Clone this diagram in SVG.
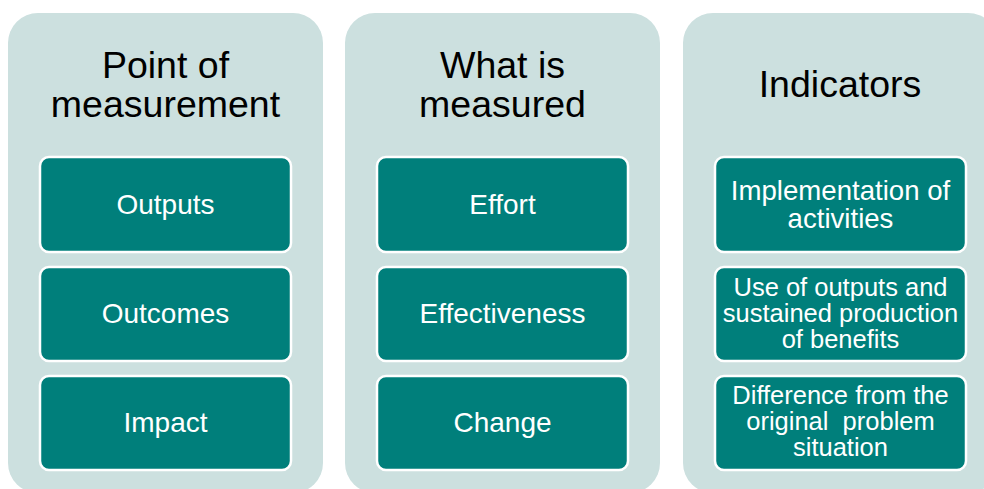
<svg xmlns="http://www.w3.org/2000/svg" width="984" height="489" viewBox="0 0 984 489">
<style>
.panel{fill:#CCE0DF;}
.box{fill:#007F7B;stroke:#FFFFFF;stroke-width:2.5;}
.title{font-family:"Liberation Sans",Arial,sans-serif;font-size:37.5px;fill:#000000;text-anchor:middle;}
.lbl{font-family:"Liberation Sans",Arial,sans-serif;font-size:28px;fill:#FFFFFF;text-anchor:middle;}
.md{font-size:27.6px;}
.sm{font-size:25.5px;}
</style>
<rect width="984" height="489" fill="#FFFFFF"/>
<g id="panel-point">
<rect class="panel" x="8" y="13" width="315" height="480" rx="30" ry="30"/>
<text class="title" x="165.5" y="78">Point of</text>
<text class="title" x="165.5" y="117">measurement</text>
</g>
<g id="panel-what">
<rect class="panel" x="345" y="13" width="315" height="480" rx="30" ry="30"/>
<text class="title" x="502.5" y="78">What is</text>
<text class="title" x="502.5" y="117">measured</text>
</g>
<g id="panel-indicators">
<rect class="panel" x="683" y="13" width="315" height="480" rx="30" ry="30"/>
<text class="title" x="840" y="97">Indicators</text>
</g>
<g id="outputs">
<rect class="box" x="40" y="157" width="251" height="95" rx="9" ry="9"/>
<text class="lbl" x="165.5" y="214">Outputs</text>
</g>
<g id="outcomes">
<rect class="box" x="40" y="267" width="251" height="94" rx="9" ry="9"/>
<text class="lbl" x="165.5" y="323">Outcomes</text>
</g>
<g id="impact">
<rect class="box" x="40" y="376" width="251" height="94" rx="9" ry="9"/>
<text class="lbl" x="165.5" y="432">Impact</text>
</g>
<g id="effort">
<rect class="box" x="377" y="157" width="251" height="95" rx="9" ry="9"/>
<text class="lbl" x="502.5" y="214">Effort</text>
</g>
<g id="effectiveness">
<rect class="box" x="377" y="267" width="251" height="94" rx="9" ry="9"/>
<text class="lbl" x="502.5" y="323">Effectiveness</text>
</g>
<g id="change">
<rect class="box" x="377" y="376" width="251" height="94" rx="9" ry="9"/>
<text class="lbl" x="502.5" y="432">Change</text>
</g>
<g id="implementation">
<rect class="box" x="715" y="157" width="251" height="95" rx="9" ry="9"/>
<text class="lbl md" x="840.5" y="200">Implementation of</text>
<text class="lbl md" x="840.5" y="228">activities</text>
</g>
<g id="use-of-outputs">
<rect class="box" x="715" y="267" width="251" height="94" rx="9" ry="9"/>
<text class="lbl sm" x="840.5" y="296">Use of outputs and</text>
<text class="lbl sm" x="840.5" y="322">sustained production</text>
<text class="lbl sm" x="840.5" y="348">of benefits</text>
</g>
<g id="difference">
<rect class="box" x="715" y="376" width="251" height="94" rx="9" ry="9"/>
<text class="lbl sm" x="840.5" y="404">Difference from the</text>
<text class="lbl sm" x="840.5" y="430" xml:space="preserve">original  problem</text>
<text class="lbl sm" x="840.5" y="456">situation</text>
</g>
<g id="connectors"></g>
</svg>
